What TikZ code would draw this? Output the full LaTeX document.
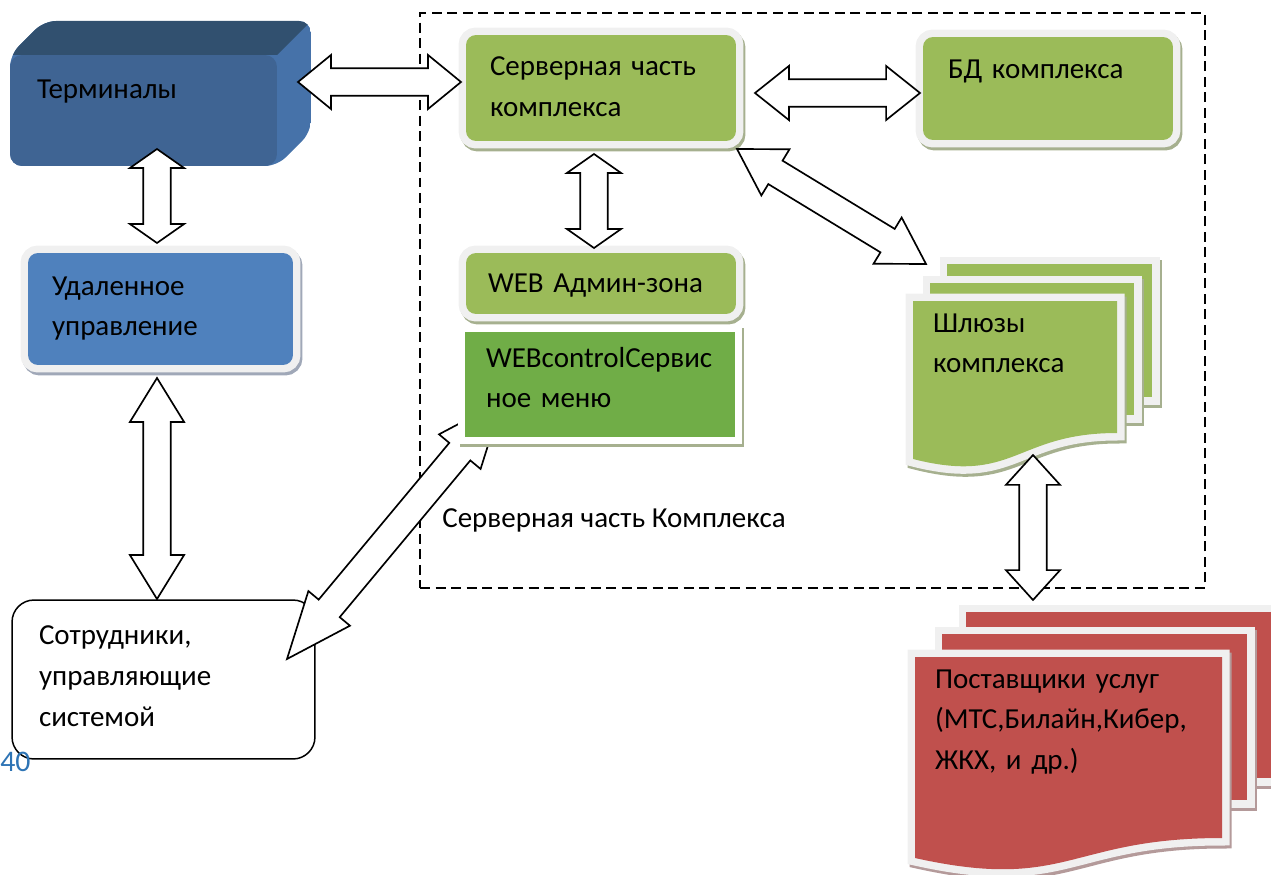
\documentclass[tikz,border=0pt]{standalone}
\usepackage{fontspec}
\setmainfont{Carlito}
\usetikzlibrary{calc}
\definecolor{gfill}{HTML}{9BBB59}
\definecolor{gdark}{HTML}{70AD47}
\definecolor{bfill}{HTML}{4F81BD}
\definecolor{rfill}{HTML}{C0504D}
\definecolor{framegray}{HTML}{F0F0F0}
\definecolor{shgreen}{HTML}{A6B08F}
\definecolor{shblue}{HTML}{A0A8B8}
\definecolor{shred}{HTML}{B49A9A}
\definecolor{termfront}{HTML}{3F6493}
\definecolor{termtop}{HTML}{31506F}
\definecolor{termside}{HTML}{4672A9}
\definecolor{numblue}{HTML}{2E74B5}
\newcommand\bodyfont{\fontsize{16.5pt}{23.3pt}\selectfont}
\newcommand\AP[2]{({\x1+(#1)*\n3-(#2)*\n4},{\y1+(#1)*\n4+(#2)*\n3})}
\newcommand\blockarrow[3]{%
  \draw[blockarr] let \p1=(#1), \p2=(#2),
    \n1={atan2(\y2-\y1,\x2-\x1)}, \n2={veclen(\x2-\x1,\y2-\y1)},
    \n3={cos(\n1)}, \n4={sin(\n1)} in
    \AP{0}{0} -- \AP{#3}{15.4} -- \AP{#3}{7.8} -- \AP{\n2-#3}{7.8} --
    \AP{\n2-#3}{15.4} -- \AP{\n2}{0} -- \AP{\n2-#3}{-15.4} --
    \AP{\n2-#3}{-7.8} -- \AP{#3}{-7.8} -- \AP{#3}{-15.4} -- cycle;}
\tikzset{
  txtbox/.style={font=\bodyfont, align=left, inner ysep=0pt, text height=11pt},
  softframe/.style={preaction={draw=#1, line width=0.3cm}},
  dropsh/.style={preaction={draw=#1, fill=#1, line width=0.3cm,
      transform canvas={shift={(0.04cm,-0.06cm)}}}},
  greenbox/.style={txtbox, dropsh=shgreen, softframe=framegray, fill=gfill, rounded corners=0.2cm},
  bluebox/.style={txtbox, dropsh=shblue, softframe=framegray, fill=bfill, rounded corners=0.2cm},
  greenpage/.style={dropsh=shgreen, softframe=framegray, fill=gfill},
  redpage/.style={dropsh=shred, softframe=framegray, fill=rfill},
  blockarr/.style={draw=black, fill=white, line width=0.95pt, line join=miter},
  zonebox/.style={draw=black, line width=1.3pt, dash pattern=on 0.2cm off 0.11cm, inner sep=0pt},
}
\begin{document}
\begin{tikzpicture}[x=0.02cm,y=-0.02cm]
\useasboundingbox (0,0) rectangle (1271,875);

% dashed zone of the server part
\node[zonebox, minimum width=15.7cm, minimum height=11.5cm] (zone) at (812.5,300.5) {};
\node[font=\bodyfont, anchor=base west, inner sep=0pt] (zonelbl) at (442,527) {Серверная часть Комплекса};

% Terminals (3D box)
\begin{scope}
  \clip[rounded corners=0.24cm] (10,166) -- (10,55) -- (44,21) -- (311,21) -- (311,132) -- (277,166) -- cycle;
  \fill[termside] (10,21) rectangle (311,166);
  \fill[termtop] (10,55) -- (44,21) -- (311,21) -- (277,55) -- cycle;
\end{scope}
\node[txtbox, fill=termfront, rounded corners=0.24cm, minimum width=5.34cm, minimum height=2.22cm,
  inner xsep=0.54cm, text width=4.26cm, text depth=25.2pt] (term) at (143.5,110.5) {Терминалы};

% Remote control and staff
\node[bluebox, minimum width=5.3cm, minimum height=2.24cm, inner xsep=0.48cm, text width=4.34cm,
  text depth=26.9pt] (remote) at (160.5,309) {Удаленное\\управление};
\node[txtbox, draw=black, line width=0.85pt, fill=white, rounded corners=0.44cm, minimum width=6.06cm,
  minimum height=3.18cm, inner xsep=0.54cm, text width=4.98cm, text depth=50.3pt] (staff) at (163.5,679.5)
  {Сотрудники,\\управляющие\\системой};
\node[font=\fontsize{17pt}{20pt}\selectfont, text=numblue, anchor=base west, inner sep=0pt] (pgnum) at (0,771) {40};

% connector whose upper end lies under the WEBcontrol box
\coordinate (staff-r) at (287,659);
\coordinate (webctl-in) at (502,401);
\blockarrow{staff-r}{webctl-in}{37.5}

% Server part boxes
\node[greenbox, minimum width=5.4cm, minimum height=2.12cm, inner xsep=0.48cm, text width=4.44cm,
  text depth=24.7pt] (srv) at (601,88) {Серверная часть\\комплекса};
\node[greenbox, minimum width=5.0cm, minimum height=2.06cm, inner xsep=0.5cm, text width=4.0cm,
  text depth=22.9pt] (db) at (1048,88.5) {БД комплекса};
\node[greenbox, minimum width=5.4cm, minimum height=1.22cm, inner xsep=0.44cm, text width=4.52cm,
  text depth=1.3pt] (webadm) at (601,283.5) {WEB Админ-зона};
\node[txtbox, dropsh=shgreen, softframe=white, fill=gdark, minimum width=5.4cm, minimum height=2.1cm,
  inner xsep=0.42cm, text width=4.56cm, text depth=30.9pt] (webctl) at (600,384.5) {WEBcontrolСервис\\ное меню};

% Gateways (multi-document)
\path[greenpage] (947,264) rectangle (1152,397);
\path[greenpage] (930,283) rectangle (1134,415);
\path[greenpage] (913,301) -- (1117,301) -- (1117,433) .. controls (1015,433) and (1015,485) .. (913,459) -- cycle;
\node[txtbox, minimum width=4.08cm, minimum height=3.3cm, inner xsep=0.4cm, text width=3.28cm,
  text depth=69.6pt] (gates) at (1015,383.5) {Шлюзы\\комплекса};

% Providers (multi-document)
\path[redpage] (966,612) rectangle (1275,778);
\path[redpage] (942,634) rectangle (1247,800);
\path[redpage] (915,657) -- (1222,657) -- (1222,838) .. controls (1068,838) and (1068,892) .. (915,858) -- cycle;
\node[txtbox, minimum width=6.14cm, minimum height=4.26cm, inner xsep=0.4cm, text width=5.34cm,
  text depth=96.9pt] (prov) at (1068.5,763.5) {Поставщики услуг\\(МТС,Билайн,Кибер,\\ЖКХ, и др.)};

% connector end points
\coordinate (term-r) at (298,82);
\coordinate (srv-l) at (461,82);
\coordinate (srv-r) at (755,93);
\coordinate (db-l) at (920,93);
\coordinate (term-b) at (157,149);
\coordinate (remote-t) at (157,243);
\coordinate (remote-b) at (157,378);
\coordinate (staff-t) at (157,599);
\coordinate (srv-b) at (594,154);
\coordinate (webadm-t) at (594,248);
\coordinate (srv-br) at (737,149);
\coordinate (gates-tl) at (926,264);
\coordinate (gates-b) at (1033,455);
\coordinate (prov-t) at (1033,600);

\blockarrow{term-r}{srv-l}{18.8}
\blockarrow{srv-r}{db-l}{19.3}
\blockarrow{term-b}{remote-t}{10.8}
\blockarrow{remote-b}{staff-t}{25}
\blockarrow{srv-b}{webadm-t}{10.8}
\blockarrow{srv-br}{gates-tl}{25.6}
\blockarrow{gates-b}{prov-t}{17}
\end{tikzpicture}
\end{document}
